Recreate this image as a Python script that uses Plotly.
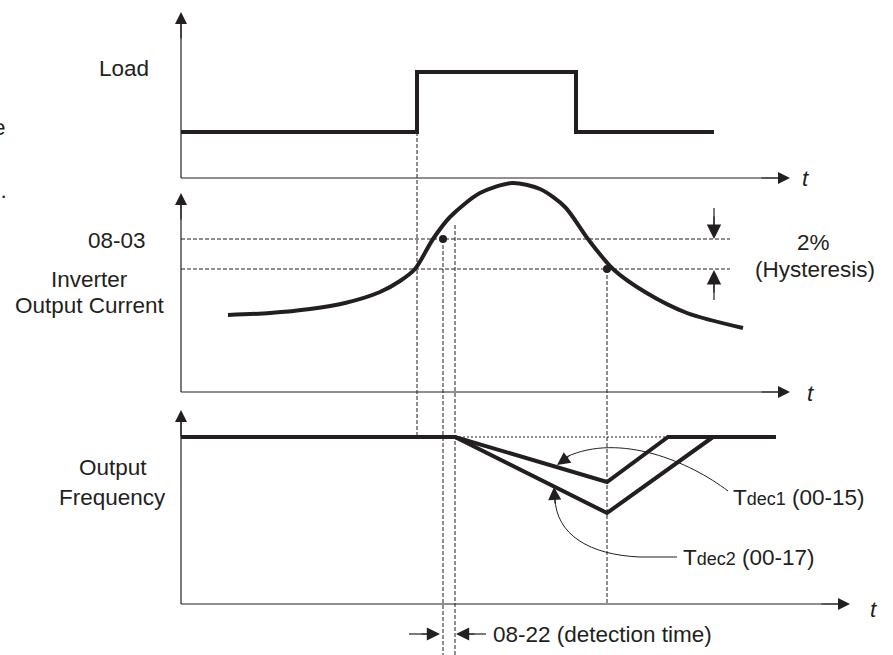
import plotly.graph_objects as go

# ---- data (x = time position, y = level position) ----
load_t = [181, 417, 417, 576, 576, 714]
load_v = [132, 132, 72, 72, 132, 132]

cur_t = [228, 270, 310, 345, 380, 400, 415, 433, 450, 480, 512, 540, 565, 588, 613, 645, 687, 743]
cur_v = [315, 313, 309, 303, 292, 281, 269, 239, 217, 193, 183, 189, 207, 239, 269, 292, 313, 328]

freq1_t = [181, 455, 607, 668, 776]
freq1_v = [437, 437, 482, 437, 437]
freq2_t = [455, 607, 713]
freq2_v = [437, 513, 437]

level_0803 = 239
level_hyst = 269
dots_t = [443, 607]
dots_v = [239, 269]

INK = "#231f20"
FONT = "Liberation Sans, Arial, sans-serif"
FS = 22.5

fig = go.Figure()

fig.add_trace(go.Scatter(x=load_t, y=load_v, mode="lines",
                         line=dict(color=INK, width=4), hoverinfo="skip"))
fig.add_trace(go.Scatter(x=cur_t, y=cur_v, mode="lines",
                         line=dict(color=INK, width=4, shape="spline", smoothing=0.8),
                         hoverinfo="skip"))
fig.add_trace(go.Scatter(x=freq1_t, y=freq1_v, mode="lines",
                         line=dict(color=INK, width=4), hoverinfo="skip"))
fig.add_trace(go.Scatter(x=freq2_t, y=freq2_v, mode="lines",
                         line=dict(color=INK, width=4), hoverinfo="skip"))
fig.add_trace(go.Scatter(x=dots_t, y=dots_v, mode="markers",
                         marker=dict(color=INK, size=8), hoverinfo="skip"))

shapes = []
def line(x0, y0, x1, y1, w=1.2, dash="solid"):
    shapes.append(dict(type="line", xref="x", yref="y", x0=x0, y0=y0, x1=x1, y1=y1,
                       line=dict(color=INK, width=w, dash=dash), layer="below"))

# axes
line(181, 178, 181, 20)
line(181, 178, 782, 178)
line(181, 392, 181, 200)
line(181, 392, 782, 392)
line(181, 604, 181, 418)
line(181, 604, 842, 604)
# dashed reference lines
dash = "4px,2px"
line(181, level_0803, 730, level_0803, 1, dash)
line(181, level_hyst, 730, level_hyst, 1, dash)
line(417, 132, 417, 437, 1, dash)
line(443, 239, 443, 655, 1, dash)
line(455, 225, 455, 655, 1, dash)
line(607, 269, 607, 604, 1, dash)
line(455, 437, 668, 437, 1, "2px,2px")
# hysteresis arrow shafts
line(714, 208, 714, 232, 1.2)
line(714, 300, 714, 276, 1.2)
# detection-time arrow shafts
line(409, 634, 434, 634, 1.2)
line(486, 634, 461, 634, 1.2)

# curved leader lines
shapes.append(dict(type="path", xref="x", yref="y",
                   path="M 728,491 C 690,462 620,432 566,457",
                   line=dict(color=INK, width=1)))
shapes.append(dict(type="path", xref="x", yref="y",
                   path="M 677,557 L 640,557 C 590,555 556,535 555,498",
                   line=dict(color=INK, width=1)))

ann = []
def arrow(x, y, ax, ay, size=2.0, width=1.2):
    ann.append(dict(x=x, y=y, ax=ax, ay=ay, xref="x", yref="y", axref="x", ayref="y",
                    showarrow=True, arrowhead=2, arrowsize=size, arrowwidth=width,
                    arrowcolor=INK, text=""))

arrow(181, 12, 181, 40)
arrow(181, 193, 181, 221)
arrow(181, 410, 181, 438)
arrow(790, 178, 760, 178)
arrow(790, 392, 760, 392)
arrow(850, 604, 820, 604)
arrow(714, 239, 714, 215, 2.4)
arrow(714, 270, 714, 294, 2.4)
arrow(440, 634, 420, 634, 2.2)
arrow(456, 634, 476, 634, 2.2)
arrow(557, 465, 571, 455, 2.6, 1)
arrow(554, 487, 555, 505, 2.6, 1)

def text(x, y, s, anchor="left", size=FS):
    ann.append(dict(x=x, y=y, xref="x", yref="y", text=s, showarrow=False,
                    xanchor=anchor, yanchor="middle",
                    font=dict(family=FONT, size=size, color=INK)))

text(151, 68, "Load", "right")
text(148, 240, "08-03", "right")
text(89, 279, "Inverter", "center")
text(90, 305, "Output Current", "center")
text(113, 467, "Output", "center")
text(112, 497, "Frequency", "center")
text(813, 242, "2%", "center")
text(815, 269, "(Hysteresis)", "center")
text(800, 178, "<i>t</i>")
text(805, 393, "<i>t</i>")
text(868, 609, "<i>t</i>")
text(731, 497, "T<span style='font-size:18px'>dec1</span> (00-15)")
text(681, 557, "T<span style='font-size:18px'>dec2</span> (00-17)")
text(491, 634, "08-22 (detection time)")
text(8, 127, "e", "right")
text(9, 190, "2.", "right")

fig.update_layout(
    width=893, height=655, margin=dict(l=0, r=0, t=0, b=0),
    paper_bgcolor="white", plot_bgcolor="white", showlegend=False,
    xaxis=dict(range=[0, 893], visible=False, fixedrange=True),
    yaxis=dict(range=[655, 0], visible=False, fixedrange=True),
    shapes=shapes, annotations=ann,
)

fig.write_html("out.html", config={"displayModeBar": False},
               post_script="document.body.style.margin='0';")
